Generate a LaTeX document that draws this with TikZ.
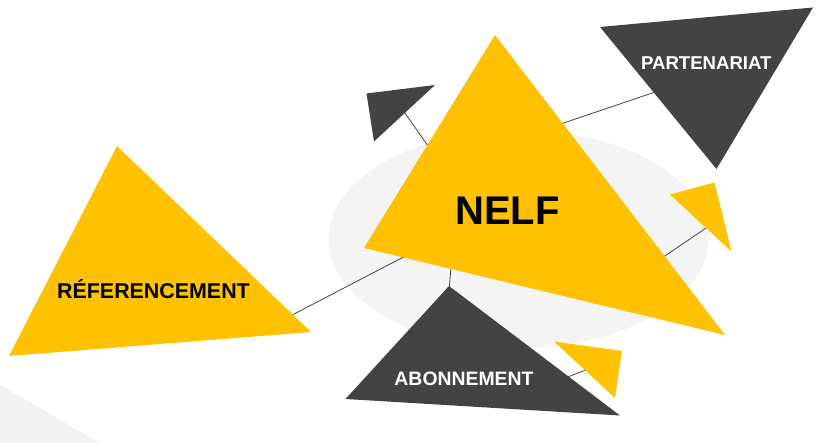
\documentclass[tikz,border=0pt]{standalone}
\usepackage{fontspec}
\setmainfont{Liberation Sans}
\usepackage{xcolor}
\definecolor{sun}{HTML}{FFC200}
\definecolor{coal}{HTML}{434343}
\definecolor{mist}{HTML}{F4F4F4}
\definecolor{haze}{HTML}{F2F2F2}
\newcommand{\tagfont}[1]{\fontsize{#1}{#1}\selectfont\bfseries}

\begin{document}
\begin{tikzpicture}[x=1pt,y=-1pt,
 every node/.style={align=center,inner sep=0pt,anchor=base},
 link/.style={draw=coal,line width=0.8pt},
 warm/.style={fill=sun},
 dark/.style={fill=coal}]
\useasboundingbox (0,0) rectangle (824,443);
% backdrop
\fill[haze] (0,385) -- (100,443) -- (0,443) -- cycle;
\fill[mist] (518.5,239) ellipse [x radius=190,y radius=109];
% connector ends, hidden under the shapes
\coordinate (nelf-ref) at (440,238);  \coordinate (ref-in) at (271,326);
\coordinate (nelf-kite) at (440,163); \coordinate (kite-in) at (400,106);
\coordinate (nelf-part) at (540,131); \coordinate (part-in) at (670,87);
\coordinate (nelf-wing) at (650,266); \coordinate (wing-in) at (715,222);
\coordinate (nelf-abo) at (451.5,260); \coordinate (abo-in) at (449,292);
\coordinate (abo-fin) at (560,380);   \coordinate (fin-in) at (596,366);
\draw[link] (ref-in) -- (nelf-ref);
\draw[link] (kite-in) -- (nelf-kite);
\draw[link] (nelf-part) -- (part-in);
\draw[link] (nelf-wing) -- (wing-in);
\draw[link] (nelf-abo) -- (abo-in);
\draw[link] (abo-fin) -- (fin-in);
% triangles
\fill[warm] (495,35) -- (364,248) -- (725,335) -- cycle;
\fill[warm] (117,146) -- (9,356) -- (311,332) -- cycle;
\fill[dark] (600,27) -- (813,7.5) -- (716.5,169) -- cycle;
\fill[dark] (366.5,93.5) -- (435,85) -- (374,141.5) -- cycle;
\fill[warm] (670,194.5) -- (714.5,182.5) -- (731.5,251.5) -- cycle;
\fill[dark] (449,286) -- (345.5,399) -- (620,415.5) -- cycle;
\fill[warm] (554,341.5) -- (622,351) -- (615,398) -- cycle;
% labels
\node (nelf) at (507.5,225) {\tagfont{40}NELF};
\node (ref) at (153.5,298.3) {\tagfont{21.4}RÉFERENCEMENT};
\node[text=white] (part) at (706.3,69.3) {\tagfont{18.6}PARTENARIAT};
\node[text=white] (abo) at (464,385) {\tagfont{19.4}ABONNEMENT};
\end{tikzpicture}
\end{document}
